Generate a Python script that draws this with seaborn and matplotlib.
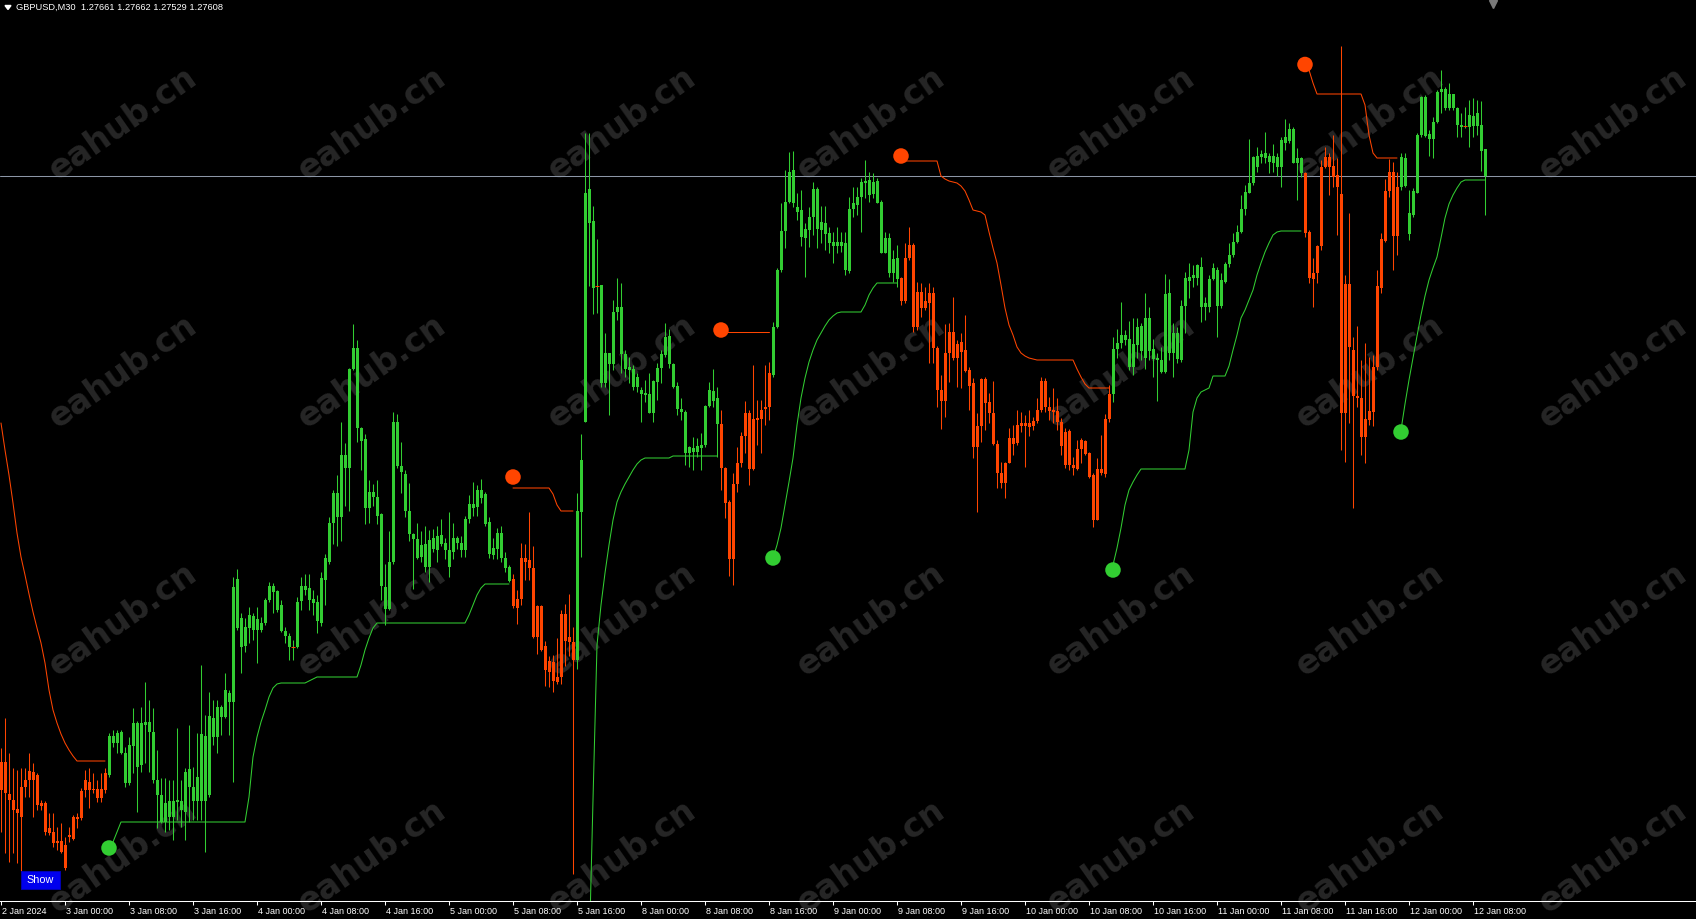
import numpy as np
import pandas as pd
import matplotlib
matplotlib.use("Agg")
import matplotlib.pyplot as plt
import seaborn as sns
from matplotlib.patches import Rectangle, Polygon
from matplotlib.transforms import ScaledTranslation

# GBPUSD M30, 2 Jan 16:00 .. 12 Jan 2024, prices in points (1 point = 0.00001)
open_pts = [
    126436, 126374, 126372, 126360, 126342, 126326, 126386, 126400, 126416, 126410,
    126348, 126354, 126294, 126296, 126274, 126278, 126270, 126286, 126282, 126326,
    126324, 126380, 126396, 126380, 126382, 126364, 126380, 126410, 126488, 126474,
    126496, 126454, 126394, 126468, 126514, 126430, 126516, 126516, 126496, 126400,
    126370, 126316, 126358, 126326, 126360, 126358, 126336, 126422, 126386, 126358,
    126358, 126488, 126370, 126524, 126486, 126546, 126526, 126574, 126556, 126802,
    126724, 126668, 126704, 126728, 126700, 126714, 126714, 126760, 126788, 126778,
    126750, 126698, 126688, 126666, 126666, 126758, 126788, 126784, 126762, 126756,
    126714, 126800, 126836, 126914, 126974, 126926, 127050, 127024, 127222, 127264,
    127104, 127082, 126944, 126976, 126966, 126932, 126786, 126742, 126836, 127116,
    127028, 127012, 126938, 126892, 126882, 126846, 126872, 126826, 126884, 126860,
    126890, 126874, 126860, 126856, 126884, 126874, 126860, 126922, 126952, 126946,
    126980, 126972, 126916, 126850, 126862, 126894, 126844, 126826, 126802, 126744,
    126762, 126844, 126840, 126824, 126686, 126748, 126668, 126616, 126636, 126596,
    126606, 126732, 126676, 126676, 126640, 126936, 127116, 127582, 127518, 127388,
    127390, 127194, 127254, 127232, 127336, 127346, 127252, 127220, 127222, 127186,
    127180, 127174, 127172, 127134, 127196, 127224, 127250, 127288, 127232, 127188,
    127142, 127136, 127054, 127064, 127056, 127070, 127070, 127148, 127178, 127164,
    127112, 127024, 126956, 126842, 126992, 127034, 127088, 127134, 127022, 127120,
    127122, 127142, 127146, 127210, 127306, 127420, 127498, 127556, 127620, 127546,
    127540, 127484, 127500, 127526, 127582, 127500, 127514, 127494, 127476, 127468,
    127476, 127474, 127418, 127542, 127550, 127566, 127594, 127600, 127572, 127598,
    127556, 127454, 127484, 127414, 127444, 127404, 127358, 127444, 127470, 127306,
    127376, 127344, 127354, 127374, 127264, 127180, 127158, 127254, 127296, 127244,
    127276, 127260, 127220, 127194, 127066, 127108, 127202, 127156, 127134, 127072,
    127014, 126994, 127034, 127084, 127074, 127108, 127114, 127106, 127118, 127118,
    127140, 127198, 127146, 127140, 127138, 127116, 127096, 127030, 127030, 127022,
    127062, 127078, 127054, 127010, 126920, 127022, 127012, 127122, 127172, 127262,
    127274, 127290, 127282, 127226, 127270, 127308, 127244, 127324, 127262, 127244,
    127240, 127216, 127374, 127254, 127294, 127240, 127348, 127406, 127404, 127404,
    127426, 127346, 127346, 127402, 127420, 127348, 127396, 127432, 127450, 127476,
    127496, 127542, 127574, 127594, 127648, 127646, 127654, 127648, 127634, 127646,
    127626, 127686, 127678, 127702, 127634, 127644, 127614, 127496, 127402, 127414,
    127468, 127626, 127646, 127628, 127610, 127572, 127134, 127392, 127260, 127168,
    127164, 127086, 127120, 127136, 127226, 127384, 127478, 127578, 127616, 127488,
    127586, 127644, 127534, 127530, 127574, 127690, 127766, 127692, 127682, 127716,
    127776, 127782, 127744, 127772, 127744, 127710, 127708, 127706, 127728, 127708,
    127710, 127661,
]
high_pts = [
    126464, 126524, 126454, 126424, 126420, 126424, 126424, 126454, 126434, 126414,
    126360, 126358, 126334, 126334, 126306, 126314, 126286, 126306, 126330, 126334,
    126384, 126420, 126424, 126414, 126400, 126414, 126424, 126494, 126500, 126500,
    126500, 126466, 126486, 126544, 126518, 126546, 126596, 126560, 126544, 126460,
    126404, 126404, 126400, 126400, 126504, 126400, 126424, 126510, 126426, 126494,
    126630, 126530, 126576, 126560, 126560, 126550, 126614, 126580, 126806, 126822,
    126734, 126724, 126746, 126734, 126746, 126726, 126764, 126796, 126794, 126780,
    126760, 126706, 126694, 126680, 126766, 126806, 126812, 126812, 126780, 126770,
    126816, 126852, 126926, 126980, 127010, 127116, 127074, 127224, 127312, 127280,
    127106, 127092, 127000, 126992, 127000, 126934, 126832, 126898, 127136, 127132,
    127076, 127020, 126994, 126894, 126914, 126898, 126908, 126900, 126902, 126908,
    126922, 126884, 126936, 126914, 126888, 126888, 126928, 126970, 126996, 126990,
    127002, 126976, 126926, 126884, 126904, 126908, 126856, 126830, 126812, 126780,
    126874, 126872, 126936, 126868, 126750, 126750, 126678, 126648, 126650, 126684,
    126740, 126752, 126772, 126706, 126974, 127092, 127694, 127694, 127548, 127482,
    127390, 127294, 127254, 127360, 127404, 127394, 127260, 127246, 127230, 127214,
    127186, 127200, 127214, 127200, 127234, 127260, 127314, 127302, 127234, 127196,
    127164, 127140, 127068, 127086, 127084, 127094, 127150, 127196, 127222, 127186,
    127140, 127026, 126960, 127014, 127066, 127096, 127158, 127140, 127230, 127160,
    127160, 127230, 127236, 127316, 127424, 127554, 127620, 127656, 127658, 127574,
    127580, 127514, 127546, 127596, 127586, 127548, 127548, 127506, 127496, 127506,
    127496, 127496, 127566, 127586, 127586, 127604, 127640, 127616, 127614, 127604,
    127560, 127496, 127494, 127460, 127470, 127406, 127474, 127506, 127474, 127396,
    127394, 127386, 127394, 127386, 127268, 127210, 127312, 127314, 127366, 127280,
    127294, 127330, 127226, 127204, 127134, 127204, 127206, 127174, 127198, 127080,
    127036, 127036, 127104, 127110, 127140, 127136, 127130, 127140, 127126, 127164,
    127206, 127204, 127166, 127184, 127164, 127124, 127104, 127102, 127046, 127080,
    127084, 127080, 127056, 127014, 127044, 127090, 127132, 127190, 127286, 127302,
    127356, 127300, 127318, 127324, 127324, 127314, 127374, 127346, 127282, 127254,
    127266, 127412, 127402, 127314, 127306, 127360, 127416, 127434, 127430, 127432,
    127446, 127366, 127410, 127434, 127426, 127414, 127436, 127474, 127494, 127510,
    127570, 127590, 127682, 127648, 127666, 127660, 127696, 127654, 127672, 127654,
    127686, 127722, 127714, 127706, 127664, 127646, 127616, 127500, 127444, 127470,
    127640, 127666, 127654, 127690, 127644, 127868, 127410, 127534, 127286, 127308,
    127240, 127274, 127246, 127250, 127420, 127494, 127602, 127642, 127636, 127616,
    127654, 127654, 127580, 127584, 127694, 127768, 127770, 127700, 127726, 127780,
    127820, 127786, 127794, 127772, 127746, 127734, 127746, 127760, 127764, 127760,
    127758, 127662,
]
low_pts = [
    126296, 126254, 126236, 126254, 126234, 126216, 126366, 126366, 126326, 126340,
    126340, 126290, 126290, 126266, 126260, 126254, 126220, 126276, 126280, 126304,
    126320, 126366, 126344, 126374, 126356, 126356, 126374, 126406, 126466, 126454,
    126452, 126386, 126390, 126414, 126336, 126416, 126434, 126416, 126394, 126304,
    126314, 126296, 126300, 126280, 126320, 126306, 126280, 126316, 126320, 126320,
    126320, 126256, 126366, 126470, 126454, 126490, 126524, 126490, 126396, 126700,
    126614, 126656, 126674, 126680, 126634, 126696, 126710, 126756, 126734, 126736,
    126696, 126674, 126640, 126640, 126664, 126740, 126770, 126740, 126730, 126694,
    126708, 126750, 126832, 126872, 126868, 126878, 126948, 126938, 127220, 127076,
    127020, 126912, 126914, 126948, 126912, 126760, 126710, 126740, 126832, 127024,
    126974, 126926, 126878, 126782, 126842, 126836, 126816, 126796, 126856, 126836,
    126868, 126842, 126806, 126842, 126862, 126846, 126846, 126914, 126928, 126928,
    126954, 126908, 126844, 126842, 126842, 126836, 126816, 126796, 126744, 126712,
    126750, 126800, 126800, 126684, 126652, 126658, 126588, 126586, 126576, 126592,
    126592, 126628, 126648, 126212, 126622, 126846, 127116, 127388, 127332, 127334,
    127186, 127186, 127130, 127220, 127320, 127214, 127206, 127194, 127180, 127176,
    127116, 127156, 127134, 127116, 127160, 127194, 127246, 127224, 127184, 127130,
    127120, 127030, 127026, 127020, 127046, 127020, 127066, 127146, 127146, 127046,
    126980, 126924, 126808, 126790, 126976, 127026, 127054, 126990, 127020, 127070,
    127054, 127110, 127120, 127206, 127304, 127416, 127464, 127554, 127546, 127520,
    127468, 127406, 127466, 127490, 127464, 127474, 127460, 127454, 127434, 127454,
    127456, 127410, 127414, 127526, 127530, 127496, 127564, 127556, 127564, 127554,
    127454, 127454, 127406, 127396, 127386, 127350, 127354, 127440, 127296, 127300,
    127326, 127340, 127234, 127234, 127146, 127102, 127126, 127196, 127240, 127186,
    127184, 127216, 127140, 127044, 126936, 127076, 127100, 127114, 127070, 126984,
    126984, 126964, 127034, 127050, 127070, 127096, 127026, 127088, 127100, 127114,
    127136, 127136, 127120, 127114, 127100, 127050, 127024, 127020, 127010, 127020,
    127034, 127050, 127004, 126906, 126920, 127010, 127006, 127116, 127156, 127244,
    127264, 127270, 127220, 127210, 127244, 127240, 127222, 127240, 127206, 127158,
    127214, 127214, 127240, 127206, 127234, 127236, 127294, 127364, 127386, 127390,
    127316, 127320, 127336, 127400, 127286, 127344, 127394, 127426, 127446, 127474,
    127494, 127530, 127574, 127590, 127616, 127634, 127634, 127614, 127616, 127608,
    127586, 127660, 127674, 127634, 127560, 127606, 127486, 127394, 127346, 127394,
    127460, 127624, 127570, 127586, 127490, 127060, 127036, 127114, 126944, 127146,
    127050, 127034, 127110, 127108, 127220, 127374, 127476, 127566, 127420, 127450,
    127580, 127586, 127480, 127526, 127574, 127686, 127686, 127648, 127644, 127714,
    127734, 127740, 127740, 127740, 127686, 127686, 127704, 127666, 127686, 127690,
    127618, 127529,
]
close_pts = [
    126380, 126436, 126360, 126340, 126334, 126386, 126400, 126418, 126400, 126350,
    126354, 126296, 126304, 126274, 126278, 126256, 126224, 126290, 126326, 126322,
    126378, 126400, 126380, 126382, 126364, 126382, 126414, 126488, 126474, 126494,
    126454, 126394, 126470, 126514, 126426, 126514, 126510, 126496, 126400, 126370,
    126316, 126354, 126326, 126358, 126356, 126340, 126416, 126386, 126358, 126406,
    126492, 126358, 126528, 126486, 126546, 126526, 126580, 126556, 126786, 126704,
    126666, 126706, 126730, 126700, 126722, 126700, 126760, 126788, 126776, 126740,
    126698, 126688, 126666, 126666, 126756, 126788, 126780, 126760, 126754, 126718,
    126804, 126844, 126914, 126974, 126926, 127050, 127024, 127222, 127264, 127104,
    127078, 126944, 126976, 126966, 126928, 126788, 126742, 126836, 127116, 127028,
    127016, 126938, 126892, 126882, 126844, 126870, 126826, 126880, 126862, 126888,
    126872, 126860, 126826, 126884, 126874, 126860, 126922, 126952, 126944, 126980,
    126964, 126912, 126852, 126864, 126894, 126844, 126824, 126798, 126748, 126762,
    126844, 126836, 126824, 126686, 126748, 126660, 126620, 126638, 126598, 126606,
    126732, 126678, 126686, 126640, 126938, 127040, 127574, 127514, 127384, 127388,
    127194, 127254, 127232, 127336, 127346, 127252, 127222, 127226, 127186, 127206,
    127172, 127170, 127134, 127198, 127224, 127252, 127286, 127232, 127186, 127142,
    127136, 127054, 127066, 127056, 127068, 127064, 127148, 127180, 127158, 127112,
    127024, 126954, 126842, 126992, 127034, 127088, 127134, 127022, 127122, 127124,
    127140, 127146, 127214, 127306, 127420, 127498, 127556, 127616, 127554, 127536,
    127486, 127502, 127526, 127582, 127502, 127516, 127492, 127474, 127468, 127476,
    127468, 127420, 127542, 127554, 127566, 127596, 127598, 127570, 127596, 127554,
    127454, 127484, 127414, 127442, 127402, 127358, 127444, 127470, 127306, 127376,
    127344, 127358, 127374, 127264, 127180, 127158, 127254, 127296, 127244, 127272,
    127256, 127218, 127188, 127066, 127108, 127202, 127154, 127134, 127072, 127014,
    126994, 127034, 127084, 127072, 127110, 127114, 127108, 127114, 127108, 127140,
    127198, 127146, 127138, 127136, 127116, 127068, 127030, 127098, 127024, 127062,
    127080, 127052, 127006, 126920, 127022, 127014, 127122, 127172, 127262, 127274,
    127290, 127280, 127226, 127272, 127306, 127258, 127324, 127258, 127242, 127240,
    127216, 127372, 127254, 127294, 127242, 127348, 127404, 127398, 127410, 127430,
    127346, 127354, 127402, 127424, 127348, 127400, 127432, 127450, 127476, 127496,
    127542, 127576, 127594, 127646, 127626, 127652, 127644, 127636, 127648, 127626,
    127680, 127674, 127702, 127634, 127644, 127614, 127494, 127404, 127414, 127468,
    127626, 127646, 127626, 127606, 127586, 127134, 127392, 127266, 127168, 127164,
    127086, 127122, 127138, 127226, 127388, 127482, 127578, 127616, 127488, 127586,
    127646, 127588, 127492, 127578, 127690, 127766, 127688, 127682, 127716, 127776,
    127782, 127744, 127772, 127744, 127710, 127706, 127708, 127730, 127708, 127734,
    127658, 127608,
]

# trailing trend line, one list per trend leg: (first bar, direction, values in points)
trend_segments = [
    (0, "down", [127114, 127060, 127010, 126954, 126894, 126846, 126810, 126772, 126736,
                 126704, 126674, 126634, 126580, 126540, 126514, 126492, 126474, 126460,
                 126448, 126438, 126438, 126438, 126438, 126438, 126438, 126438, 126438]),
    (27, "up", [126264, 126276, 126296,
                126316, 126316, 126316, 126316, 126316, 126316, 126316, 126316,
                126316, 126316, 126316, 126316, 126316, 126316, 126316, 126316,
                126316, 126316, 126316, 126316, 126316, 126316, 126316, 126316,
                126316, 126316, 126316, 126316, 126316, 126316, 126316, 126316,
                126366, 126446, 126486, 126516, 126540, 126566, 126584, 126592,
                126594, 126594, 126594, 126594, 126594, 126594, 126594,
                126598, 126602,
                126606, 126606, 126606, 126606, 126606, 126606, 126606, 126606,
                126606, 126606, 126606,
                126630, 126660, 126684, 126704,
                126714, 126714, 126714, 126714, 126714, 126714, 126714, 126714,
                126714, 126714, 126714, 126714, 126714, 126714, 126714, 126714,
                126714, 126714, 126714, 126714, 126714, 126714, 126714,
                126730, 126750, 126770, 126784,
                126792, 126792, 126792, 126792, 126792, 126792, 126792]),
    (128, "down", [126984, 126984, 126984, 126984, 126984, 126984, 126984, 126984,
                   126984, 126984, 126972, 126950, 126938, 126938, 126938, 126938]),
    (144, "up", [125160, 125460, 125760, 126040, 126360, 126670, 126750, 126814, 126870,
                 126920, 126956, 126976, 126992, 127006, 127020, 127032, 127040,
                 127044, 127044, 127044, 127044, 127044, 127044, 127044,
                 127048, 127048, 127048, 127048, 127048, 127048, 127048, 127048,
                 127048, 127048, 127048, 127048]),
    (180, "down", [127296, 127296, 127296, 127296, 127296, 127296, 127296, 127296,
                   127296, 127296, 127296, 127296, 127296]),
    (193, "up", [126844, 126870, 126904, 126950, 126996, 127044, 127110, 127164, 127204,
                 127236, 127260, 127280, 127294, 127308, 127320, 127328, 127334,
                 127336, 127336, 127336, 127336, 127336, 127336,
                 127350, 127370, 127384,
                 127394, 127394, 127394, 127394, 127394, 127394]),
    (225, "down", [127638, 127638, 127638, 127638, 127638, 127638, 127638, 127638,
                   127638, 127638, 127608, 127602, 127598, 127596, 127594, 127588,
                   127578, 127560, 127540, 127538, 127536, 127530, 127496, 127464,
                   127434, 127390, 127344, 127310, 127290, 127266, 127254, 127248,
                   127244, 127242, 127240, 127240, 127240, 127240, 127240, 127240,
                   127240, 127240, 127240, 127240, 127222, 127206, 127192,
                   127184, 127184, 127184, 127184, 127184, 127184]),
    (278, "up", [126830, 126864, 126904, 126950, 126980, 126996, 127010,
                 127022, 127022, 127022, 127022, 127022, 127022, 127022, 127022,
                 127022, 127022, 127022, 127022,
                 127060, 127136, 127164, 127176, 127180, 127184,
                 127208, 127208, 127208, 127208,
                 127228, 127260, 127290, 127324, 127340, 127360, 127380, 127410,
                 127434, 127456, 127474, 127490, 127496,
                 127498, 127498, 127498, 127498, 127498, 127498]),
    (326, "down", [127828, 127820, 127794,
                   127772, 127772, 127772, 127772, 127772, 127772, 127772, 127772,
                   127772, 127772, 127772, 127772,
                   127750, 127690, 127654,
                   127644, 127644, 127644, 127644, 127644, 127644]),
    (350, "up", [127100, 127152, 127200, 127244, 127288, 127330, 127368, 127400, 127424,
                 127446, 127484, 127524, 127552, 127570, 127584, 127596,
                 127600, 127600, 127600, 127600, 127600, 127600]),
]

# trend change dots
dot_bars = [27, 128, 180, 193, 225, 278, 326, 350]
dot_pts = [126264, 127006, 127300, 126844, 127648, 126820, 127831, 127096]
dot_dirs = ["up", "down", "down", "up", "down", "up", "down", "up"]

tick_bars = list(range(0, 369, 16))
tick_labels = ["2 Jan 2024", "3 Jan 00:00", "3 Jan 08:00", "3 Jan 16:00",
               "4 Jan 00:00", "4 Jan 08:00", "4 Jan 16:00", "5 Jan 00:00",
               "5 Jan 08:00", "5 Jan 16:00", "8 Jan 00:00", "8 Jan 08:00",
               "8 Jan 16:00", "9 Jan 00:00", "9 Jan 08:00", "9 Jan 16:00",
               "10 Jan 00:00", "10 Jan 08:00", "10 Jan 16:00", "11 Jan 00:00",
               "11 Jan 08:00", "11 Jan 16:00", "12 Jan 00:00", "12 Jan 08:00"]

header = "GBPUSD,M30  1.27661 1.27662 1.27529 1.27608"

GREEN = "#32CD32"
ORANGE = "#FF4500"
palette = {"up": GREEN, "down": ORANGE}

# ---- frames
df = pd.DataFrame({"open": open_pts, "high": high_pts,
                   "low": low_pts, "close": close_pts}) / 1e5
df["bar"] = np.arange(len(df))
starts = [s[0] for s in trend_segments]
df["trend"] = [trend_segments[np.searchsorted(starts, b, side="right") - 1][1]
               for b in df["bar"]]

rows = []
for k, (start, d, vals) in enumerate(trend_segments):
    for j, v in enumerate(vals):
        rows.append((start + j, v / 1e5, d, k))
lines = pd.DataFrame(rows, columns=["bar", "price", "trend", "seg"])

dots = pd.DataFrame({"bar": dot_bars, "price": np.array(dot_pts) / 1e5, "trend": dot_dirs})

# ---- plot
sns.set_theme(style="dark", rc={"axes.facecolor": "black", "figure.facecolor": "black"})
plt.rcParams["font.family"] = ["Liberation Sans", "DejaVu Sans"]

W, H = 1696, 919
fig = plt.figure(figsize=(W / 100, H / 100), dpi=100)
ax = fig.add_axes([0, 18 / H, 1, 901 / H])
ax.set_facecolor("black")
ax.grid(False)

# watermark grid
for cx in [123, 372, 622, 871, 1121, 1370, 1613]:
    for cy in [124, 372, 620, 857]:
        ax.text(cx / W, (901 - cy) / 901, "eahub.cn", transform=ax.transAxes,
                rotation=35, ha="center", va="center", fontsize=24,
                fontweight="bold", family="DejaVu Sans", color="#262626",
                zorder=0.5, clip_on=False)

# bid line
ax.axhline(close_pts[-1] / 1e5, color="#8c96a6", lw=0.75, zorder=1)

# trailing line and dots
sns.lineplot(data=lines, x="bar", y="price", hue="trend", units="seg",
             estimator=None, palette=palette, linewidth=0.75, legend=False,
             ax=ax, zorder=2)

# candles
cols = df["trend"].map(palette)
ax.vlines(df["bar"], df["low"], df["high"], colors=cols, linewidth=0.75, zorder=3)
body = df[df["open"] != df["close"]]
lo = body[["open", "close"]].min(axis=1)
hgt = (body["open"] - body["close"]).abs().clip(lower=0.00002)
ax.bar(body["bar"], hgt, bottom=lo, width=0.75, color=body["trend"].map(palette),
       linewidth=0, zorder=4)
doji = df[df["open"] == df["close"]]
ax.hlines(doji["close"], doji["bar"] - 0.4, doji["bar"] + 0.4, colors=ORANGE,
          linewidth=0.75, zorder=5)

sns.scatterplot(data=dots, x="bar", y="price", hue="trend", palette=palette,
                s=125, linewidth=0, legend=False, ax=ax, zorder=6)

ax.set_xlim(-0.25, 423.75)
ax.set_ylim(1.26158, 1.27960)
ax.set_xlabel("")
ax.set_ylabel("")
ax.set_yticks([])
ax.set_xticks(tick_bars, tick_labels)
ax.tick_params(axis="x", colors="white", length=3, width=0.75, direction="out",
               pad=1.5, labelsize=6.5, bottom=True)
off = ScaledTranslation(1.5 / 100, 0, fig.dpi_scale_trans)
for lab in ax.get_xticklabels():
    lab.set_ha("left")
    lab.set_transform(lab.get_transform() + off)
for side in ["top", "right", "left"]:
    ax.spines[side].set_visible(False)
ax.spines["bottom"].set_color("white")
ax.spines["bottom"].set_linewidth(0.75)

# chart shift marker
ax.plot([373], [0.996], marker="v", ms=6, color="#7a7a7a",
        transform=ax.get_xaxis_transform(), clip_on=False, zorder=7)

# header
fig.patches.append(Polygon([[5 / W, 1 - 5.5 / H], [11 / W, 1 - 5.5 / H], [8 / W, 1 - 9.5 / H]],
                           closed=True, transform=fig.transFigure, color="white"))
fig.text(16 / W, 1 - 2.5 / H, header, color="white", fontsize=6.7, va="top", ha="left")

# "Show" button
fig.patches.append(Rectangle((21 / W, 1 - 889 / H), 39 / W, 18 / H, transform=fig.transFigure,
                             facecolor="#0000ee", edgecolor="#0000b0", linewidth=0.75))
fig.text(40.5 / W, 1 - 880 / H, "Show", color="white", fontsize=7.8,
         ha="center", va="center")

fig.savefig("out.png", dpi=100, facecolor="black")
